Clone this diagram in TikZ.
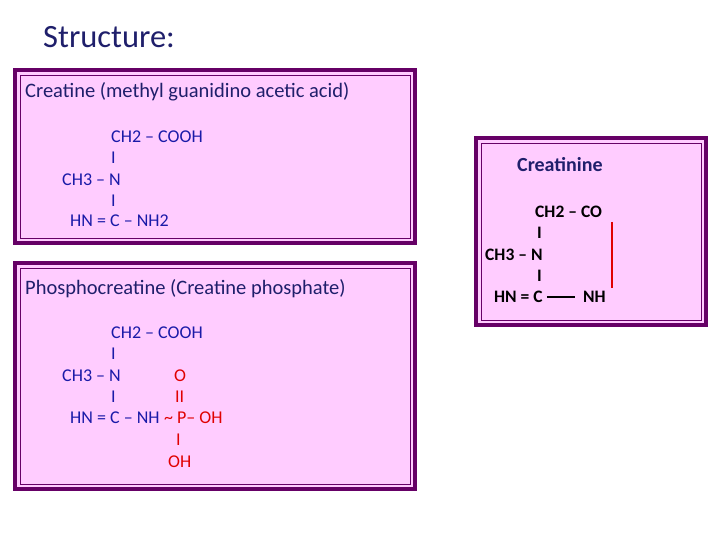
\documentclass[tikz,border=0pt]{standalone}
\usepackage{fontspec}
\setmainfont{Carlito}
\begin{document}
\begin{tikzpicture}[x=1pt,y=-1pt,
  box/.style={draw=boxc,line width=4pt,fill=pinkc},
  inner/.style={draw=boxc,line width=0.8pt},
  ttl/.style={anchor=west,inner sep=0,text=navyc,font=\fontsize{20.5}{24}\selectfont},
  fm/.style={anchor=west,inner sep=0,text=bluec,font=\fontsize{18}{21}\selectfont},
  fr/.style={anchor=west,inner sep=0,text=redc,font=\fontsize{18}{21}\selectfont},
  fk/.style={anchor=west,inner sep=0,text=black,font=\bfseries\fontsize{17.5}{21}\selectfont}]
\definecolor{boxc}{HTML}{660066}
\definecolor{pinkc}{HTML}{FFCCFF}
\definecolor{navyc}{HTML}{1F1F6B}
\definecolor{bluec}{HTML}{1A1AA8}
\definecolor{redc}{HTML}{E00000}
\useasboundingbox (0,0) rectangle (720,540);
\node[anchor=west,inner sep=0,text=navyc,font=\fontsize{32.5}{36}\selectfont] (st) at (43,37) {Structure:};
% box 1
\draw[box] (15,70) rectangle (415,243);
\draw[inner] (20,75) rectangle (410,238);
\node[ttl] (t1) at (25,92) {Creatine (methyl guanidino acetic acid)};
\node[fm] (a1) at (111,137) {CH2 – COOH};
\node[fm] (a2) at (111,158) {I};
\node[fm] (a3) at (62,180) {CH3 – N};
\node[fm] (a4) at (111,201) {I};
\node[fm] (a5) at (70,221) {HN = C – NH2};
% box 2
\draw[box] (15,263) rectangle (415,489);
\draw[inner] (20,268) rectangle (410,484);
\node[ttl] (t2) at (25,289) {Phosphocreatine (Creatine phosphate)};
\node[fm] (b1) at (111,333) {CH2 – COOH};
\node[fm] (b2) at (111,354) {I};
\node[fm] (b3) at (62,376) {CH3 – N};
\node[fr] (b3r) at (174,376) {O};
\node[fm] (b4) at (111,397) {I};
\node[fr] (b4r) at (175,397) {II};
\node[fm] (b5) at (70,418) {HN = C – NH};
\node[fr,anchor=west] (b5r) at ([xshift=4pt]b5.east) {\textasciitilde\ P– OH};
\node[fr] (b6) at (176,440) {I};
\node[fr] (b7) at (168,462) {OH};
% box 3
\draw[box] (476,138) rectangle (706,325);
\draw[inner] (481,143) rectangle (701,320);
\node[anchor=west,inner sep=0,text=navyc,font=\bfseries\fontsize{20}{24}\selectfont] (t3) at (517,165) {Creatinine};
\node[fk] (c1) at (535,212) {CH2 – CO};
\node[fk] (c2) at (537,233) {I};
\node[fk] (c3) at (485,255) {CH3 – N};
\node[fk] (c4) at (537,276) {I};
\node[fk] (c5) at (494,297) {HN = C};
\node[fk] (c6) at (583,297) {NH};
\draw[line width=1.2pt] ([xshift=4pt]c5.east) -- ([xshift=-8pt]c6.west);
\coordinate (r1) at (612,222);
\coordinate (r2) at (612,288);
\draw[draw=redc,line width=2.2pt] (r1) -- (r2);
\end{tikzpicture}
\end{document}
